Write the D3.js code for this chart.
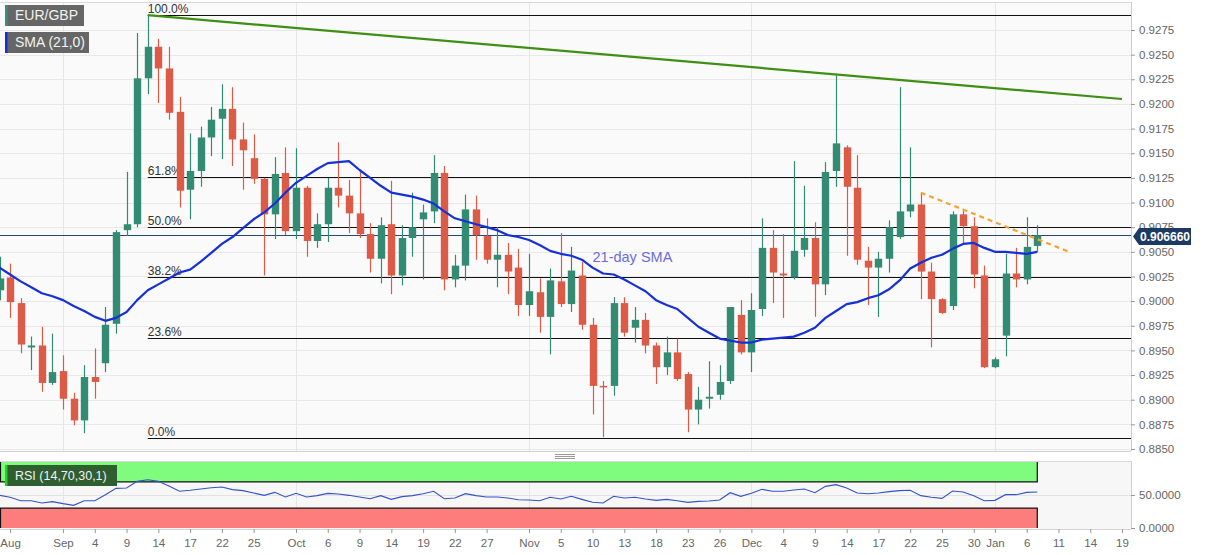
<!DOCTYPE html>
<html>
<head>
<meta charset="utf-8">
<script src="https://cdn.jsdelivr.net/npm/d3@7"></script>
<style>
  body { margin: 0; background: #fff; font-family: "Liberation Sans", Arial, sans-serif; }
  svg text { font-family: "Liberation Sans", Arial, sans-serif; }
</style>
</head>
<body>
<div id="chart"></div>
<script>
// EUR/GBP daily, Aug 24 2020 - Jan 7 2021
const days = [
  "2020-08-24","2020-08-25","2020-08-26","2020-08-27","2020-08-28","2020-08-31",
  "2020-09-01","2020-09-02","2020-09-03","2020-09-04","2020-09-07","2020-09-08","2020-09-09","2020-09-10","2020-09-11",
  "2020-09-14","2020-09-15","2020-09-16","2020-09-17","2020-09-18","2020-09-21","2020-09-22","2020-09-23","2020-09-24",
  "2020-09-25","2020-09-28","2020-09-29","2020-09-30",
  "2020-10-01","2020-10-02","2020-10-05","2020-10-06","2020-10-07","2020-10-08","2020-10-09","2020-10-12","2020-10-13",
  "2020-10-14","2020-10-15","2020-10-16","2020-10-19","2020-10-20","2020-10-21","2020-10-22","2020-10-23","2020-10-26",
  "2020-10-27","2020-10-28","2020-10-29","2020-10-30",
  "2020-11-02","2020-11-03","2020-11-04","2020-11-05","2020-11-06","2020-11-09","2020-11-10","2020-11-11","2020-11-12",
  "2020-11-13","2020-11-16","2020-11-17","2020-11-18","2020-11-19","2020-11-20","2020-11-23","2020-11-24","2020-11-25",
  "2020-11-26","2020-11-27","2020-11-30",
  "2020-12-01","2020-12-02","2020-12-03","2020-12-04","2020-12-07","2020-12-08","2020-12-09","2020-12-10","2020-12-11",
  "2020-12-14","2020-12-15","2020-12-16","2020-12-17","2020-12-18","2020-12-21","2020-12-22","2020-12-23","2020-12-24",
  "2020-12-25","2020-12-28","2020-12-29","2020-12-30","2020-12-31",
  "2021-01-01","2021-01-04","2021-01-05","2021-01-06","2021-01-07"
];
const futureDays = ["2021-01-08","2021-01-11","2021-01-12","2021-01-13","2021-01-14","2021-01-15","2021-01-18","2021-01-19"];

const open = [
  .9011,.9024,.8998,.8953,.8955,.8917,
  .8929,.8901,.8879,.8923,.8937,.8977,.9072,.9078,.9226,
  .9258,.9236,.9192,.9113,.9132,.9166,.9185,.9195,.9164,
  .9145,.9124,.9088,.9130,
  .9071,.9115,.9061,.9078,.9115,.9107,.9089,.9068,.9043,
  .9078,.9026,.9064,.9083,.9091,.9130,.9022,.9036,.9093,
  .9066,.9042,.9047,.9034,
  .8996,.9009,.8984,.9020,.8997,.9026,.8976,.8914,.8914,
  .8998,.8973,.8981,.8955,.8933,.8948,.8926,.8890,.8901,
  .8905,.8919,.8986,
  .8948,.8992,.9054,.9028,.9024,.9052,.9064,.9017,.9132,
  .9156,.9115,.9041,.9034,.9043,.9065,.9091,.9098,.9030,
  .9002,.8995,.9088,.9076,.9026,
  .8933,.8965,.9028,.9022,.9056
];
const high = [
  .9045,.9038,.9003,.8964,.8974,.8967,
  .8945,.8907,.8935,.8952,.8994,.9072,.9131,.9272,.9290,
  .9266,.9258,.9207,.9170,.9177,.9197,.9220,.9217,.9181,
  .9169,.9125,.9146,.9156,
  .9155,.9117,.9089,.9125,.9161,.9123,.9131,.9079,.9085,
  .9122,.9077,.9110,.9098,.9148,.9137,.9047,.9108,.9107,
  .9084,.9075,.9059,.9053,
  .9048,.9023,.9033,.9069,.9055,.9040,.8983,.8919,.9004,
  .9004,.8994,.8988,.8958,.8964,.8962,.8928,.8913,.8939,
  .8935,.8994,.9001,
  .9008,.9084,.9072,.9068,.9142,.9117,.9080,.9141,.9229,
  .9158,.9148,.9055,.9050,.9082,.9217,.9156,.9110,.9039,
  .9003,.9091,.9092,.9085,.9036,
  .8943,.9048,.9054,.9085,.9077
];
const low = [
  .9001,.8983,.8947,.8930,.8908,.8915,
  .8890,.8874,.8866,.8901,.8928,.8967,.9066,.9075,.9210,
  .9201,.9184,.9095,.9083,.9116,.9147,.9144,.9137,.9113,
  .9119,.9026,.9063,.9067,
  .9063,.9045,.9054,.9060,.9095,.9069,.9064,.9029,.9018,
  .9007,.9016,.9045,.9022,.9079,.9011,.9014,.9021,.9042,
  .9038,.9014,.9007,.8985,
  .8985,.8968,.8946,.8994,.8989,.8971,.8885,.8862,.8904,
  .8964,.8958,.8947,.8916,.8925,.8919,.8867,.8875,.8891,
  .8900,.8916,.8946,
  .8928,.8985,.8998,.8983,.9022,.9045,.8984,.9006,.9116,
  .9046,.9037,.8996,.8984,.9029,.9063,.9085,.9002,.8953,
  .8987,.8991,.9059,.9013,.8932,
  .8932,.8944,.9014,.9017,.9050
];
const close = [
  .9023,.8999,.8956,.8955,.8917,.8928,
  .8901,.8879,.8923,.8918,.8976,.9070,.9078,.9226,.9258,
  .9236,.9191,.9112,.9132,.9166,.9184,.9195,.9164,.9153,
  .9124,.9088,.9129,.9071,
  .9115,.9061,.9078,.9115,.9107,.9089,.9068,.9043,.9077,
  .9026,.9064,.9075,.9090,.9130,.9022,.9036,.9093,.9067,
  .9042,.9047,.9030,.8996,
  .9010,.8984,.9021,.8997,.9031,.8976,.8914,.8913,.8998,
  .8968,.8981,.8955,.8933,.8948,.8921,.8890,.8900,.8903,
  .8918,.8994,.8948,
  .8991,.9054,.9029,.9026,.9051,.9064,.9017,.9131,.9160,
  .9116,.9042,.9034,.9043,.9075,.9091,.9098,.9030,.9002,
  .8988,.9088,.9076,.9027,.8933,
  .8941,.9028,.9022,.9055,.90666
];
const sma21 = [
  .9034,.9027,.9020,.9014,.9008,.9005,
  .9001,.8995,.8990,.8984,.8980,.8983,.8989,.9001,.9011,
  .9017,.9023,.9029,.9032,.9040,.9049,.9058,.9065,.9074,
  .9083,.9090,.9099,.9110,
  .9120,.9127,.9134,.9140,.9141,.9142,.9133,.9125,.9117,
  .9110,.9108,.9106,.9103,.9099,.9091,.9084,.9081,.9078,
  .9075,.9072,.9067,.9065,
  .9062,.9057,.9051,.9048,.9046,.9042,.9034,.9028,.9027,
  .9022,.9016,.9010,.9001,.8996,.8992,.8983,.8974,.8968,
  .8962,.8960,.8958,
  .8958,.8961,.8962,.8963,.8964,.8968,.8973,.8983,.8990,
  .8997,.8999,.9003,.9006,.9012,.9021,.9033,.9039,.9044,
  .9047,.9053,.9058,.9059,.9054,
  .9050,.9050,.9049,.9048,.9050
];
const rsi14 = [
  49.5,46.5,41.4,41.4,37.9,39.9,
  36.9,34.3,41.4,41.4,50.5,60.1,60.6,70.7,73.2,
  70.7,63.6,55.6,57.1,59.1,61.1,62.1,58.1,56.6,
  53.0,49.5,54.0,47.0,
  52.5,47.0,49.0,52.5,51.5,49.5,47.0,44.4,49.0,
  43.4,47.5,49.0,52.0,55.6,44.4,45.5,52.0,49.0,
  47.0,47.0,45.5,42.9,
  42.4,41.4,46.5,43.9,48.0,43.4,38.9,37.9,48.0,
  45.5,46.5,43.9,41.9,43.4,41.4,38.9,40.4,40.9,
  42.4,53.5,48.0,
  52.5,58.6,55.6,55.6,57.6,59.1,53.5,63.1,65.7,
  60.6,53.0,52.0,53.0,55.1,56.6,57.1,49.0,46.5,
  44.9,56.1,54.5,49.0,41.4,
  41.9,50.5,50.5,54.0,54.5
];

const priceTicks = [0.8850,0.8875,0.8900,0.8925,0.8950,0.8975,0.9000,0.9025,0.9050,0.9075,
                    0.9100,0.9125,0.9150,0.9175,0.9200,0.9225,0.9250,0.9275];
const rsiTicks = [0, 50];
const tickDays = ["2020-08-25","2020-09-01","2020-09-04","2020-09-09","2020-09-14","2020-09-17","2020-09-22","2020-09-25",
  "2020-10-01","2020-10-06","2020-10-09","2020-10-14","2020-10-19","2020-10-22","2020-10-27",
  "2020-11-02","2020-11-05","2020-11-10","2020-11-13","2020-11-18","2020-11-23","2020-11-26",
  "2020-12-01","2020-12-04","2020-12-09","2020-12-14","2020-12-17","2020-12-22","2020-12-25","2020-12-30",
  "2021-01-01","2021-01-06","2021-01-11","2021-01-14","2021-01-19"];
const tickLabels = ["Aug","Sep","4","9","14","17","22","25","Oct","6","9","14","19","22","27",
  "Nov","5","10","13","18","23","26","Dec","4","9","14","17","22","25","30","Jan","6","11","14","19"];
const monthDays = ["2020-09-01","2020-10-01","2020-11-02","2020-12-01","2021-01-01"];

// fibonacci retracement between Sep 11 high and Nov 11 low
const fibHigh = 0.9290, fibLow = 0.8861, fibStartDay = "2020-09-11";
const fibLevels = [1, 0.618, 0.5, 0.382, 0.236, 0];
const fibLabels = ["100.0%","61.8%","50.0%","38.2%","23.6%","0.0%"];

const trendDays = ["2020-09-11","2021-01-19"], trendPrices = [0.9290, 0.9205];
const resistDays = ["2020-12-23","2021-01-12"], resistPrices = [0.9110, 0.9050];
const lastPrice = 0.90666;

const W = 1207, H = 555;
const plotRight = 1131;
const svg = d3.select("#chart").append("svg").attr("width", W).attr("height", H);

const x = d3.scalePoint().domain(days.concat(futureDays)).range([-0.5, 1122]);
const y = d3.scaleLinear().domain([0.8850, 0.9275]).range([449, 30]);
const yR = d3.scaleLinear().domain([0, 100]).range([528, 462]);

// panels
svg.append("rect").attr("x", 0).attr("y", 2).attr("width", plotRight).attr("height", 449).style("fill", "#fafafa");
svg.append("rect").attr("x", 0).attr("y", 461).attr("width", plotRight).attr("height", 68).style("fill", "#f7f7f7");
svg.append("line").attr("x1", 0).attr("x2", plotRight).attr("y1", 2.5).attr("y2", 2.5).style("stroke", "#d8d8d8");
svg.append("line").attr("x1", 0).attr("x2", plotRight).attr("y1", 451.5).attr("y2", 451.5).style("stroke", "#d0d0d0");
svg.append("line").attr("x1", 0).attr("x2", plotRight).attr("y1", 461.5).attr("y2", 461.5).style("stroke", "#dadada");

// grid
svg.append("g").selectAll("line").data(priceTicks).join("line")
  .attr("x1", 0).attr("x2", plotRight)
  .attr("y1", d => Math.round(y(d)) + 0.5).attr("y2", d => Math.round(y(d)) + 0.5)
  .style("stroke", "#e8e8e8");
svg.append("g").selectAll("line").data(monthDays).join("line")
  .attr("x1", d => Math.round(x(d)) + 0.5).attr("x2", d => Math.round(x(d)) + 0.5)
  .attr("y1", 3).attr("y2", 451).style("stroke", "#e6e6e6");
svg.append("g").selectAll("line").data(monthDays).join("line")
  .attr("x1", d => Math.round(x(d)) + 0.5).attr("x2", d => Math.round(x(d)) + 0.5)
  .attr("y1", 462).attr("y2", 528).style("stroke", "#e6e6e6");
svg.append("line").attr("x1", 0).attr("x2", plotRight)
  .attr("y1", Math.round(yR(50)) + 0.5).attr("y2", Math.round(yR(50)) + 0.5).style("stroke", "#e2e2e2");

// drag handle between panels
[454.5, 456.5, 458.5].forEach(function(v){
  svg.append("line").attr("x1", 555).attr("x2", 575).attr("y1", v).attr("y2", v).style("stroke", "#9a9a9a");
});

const price = svg.append("g");

// fibonacci lines
const fibX = x(fibStartDay);
fibLevels.forEach(function(lv, i){
  let p = fibLow + lv * (fibHigh - fibLow);
  let yy = Math.round(y(p)) + 0.5;
  price.append("line").attr("x1", fibX).attr("x2", plotRight).attr("y1", yy).attr("y2", yy)
    .style("stroke", "#111").style("stroke-width", 1.2);
  price.append("text").attr("x", fibX).attr("y", yy - 3).text(fibLabels[i])
    .style("font-size", "12px").style("fill", "#333");
});

// last price line
price.append("line").attr("x1", 0).attr("x2", plotRight)
  .attr("y1", Math.round(y(lastPrice)) + 0.5).attr("y2", Math.round(y(lastPrice)) + 0.5)
  .style("stroke", "#2a4674").style("stroke-width", 1);

// green trend line
price.append("line")
  .attr("x1", x(trendDays[0])).attr("y1", y(trendPrices[0]))
  .attr("x2", x(trendDays[1])).attr("y2", y(trendPrices[1]))
  .style("stroke", "#3f8f12").style("stroke-width", 2.2);

// candles
const green = "#338b73", red = "#db5b46";
const candles = price.append("g");
days.forEach(function(d, i){
  let col = close[i] >= open[i] ? green : red;
  let cx = Math.round(x(d)) + 0.5;
  candles.append("line").attr("x1", cx).attr("x2", cx)
    .attr("y1", y(high[i])).attr("y2", y(low[i]))
    .style("stroke", col).style("stroke-width", 1.2);
  let top = y(Math.max(open[i], close[i]));
  let h = Math.max(1.5, Math.abs(y(open[i]) - y(close[i])));
  candles.append("rect").attr("x", cx - 3.7).attr("width", 7.4)
    .attr("y", top).attr("height", h).style("fill", col);
});

// 21 day SMA
const smaLine = d3.line().x((d, i) => x(days[i])).y(d => y(d));
price.append("path").datum(sma21).attr("d", smaLine)
  .style("fill", "none").style("stroke", "#1530d8").style("stroke-width", 2.2)
  .style("stroke-linejoin", "round");
price.append("text").attr("x", x("2020-11-10")).attr("y", y(0.9040)).text("21-day SMA")
  .style("font-size", "14.5px").style("fill", "#6c6ce0");

// falling resistance line
price.append("line")
  .attr("x1", x(resistDays[0])).attr("y1", y(resistPrices[0]))
  .attr("x2", x(resistDays[1])).attr("y2", y(resistPrices[1]))
  .style("stroke", "#f4a430").style("stroke-width", 2.2).style("stroke-dasharray", "5,4");

// right price axis
const yAxis = d3.axisRight(y).tickValues(priceTicks).tickFormat(d3.format(".4f")).tickSize(4).tickSizeOuter(0).tickPadding(4);
const ya = svg.append("g").attr("transform", "translate(" + plotRight + ",0)").call(yAxis);
ya.select(".domain").attr("d", "M0.5,2V451").style("stroke", "#cfcfcf");
ya.selectAll(".tick line").style("stroke", "#999");
ya.selectAll(".tick text").style("font-size", "11.5px").style("fill", "#666").style("font-family", "Liberation Sans, Arial, sans-serif");

// last price tag
const tagY = y(lastPrice);
const tag = svg.append("g").attr("transform", "translate(" + (plotRight + 2) + "," + (tagY + 1) + ")");
tag.append("path").attr("d", "M0,0 L6,-8.5 L58,-8.5 L58,8.5 L6,8.5 Z").style("fill", "#1d3a62");
tag.append("text").attr("x", 32).attr("y", 4.5).attr("text-anchor", "middle").text(lastPrice.toFixed(6))
  .style("font-size", "12px").style("font-weight", "bold").style("fill", "#fff");

// RSI panel
const lastX = x(days[days.length - 1]);
const rsiG = svg.append("g");
rsiG.append("rect").attr("x", 0).attr("width", lastX).attr("y", yR(100)).attr("height", yR(70) - yR(100)).style("fill", "#7ffb7e");
rsiG.append("rect").attr("x", 0).attr("width", lastX).attr("y", yR(30)).attr("height", yR(0) - yR(30)).style("fill", "#fd7c7c");
rsiG.append("path")
  .attr("d", "M0.5," + yR(100) + "V" + yR(70) + "H" + lastX + "V" + yR(100) +
             "M0.5," + yR(0) + "V" + yR(30) + "H" + lastX + "V" + yR(0))
  .style("fill", "none").style("stroke", "#111").style("stroke-width", 1.2);
const rsiLine = d3.line().x((d, i) => x(days[i])).y(d => yR(d));
rsiG.append("path").datum(rsi14).attr("d", rsiLine)
  .style("fill", "none").style("stroke", "#3552cc").style("stroke-width", 1.1);

const rAxis = d3.axisRight(yR).tickValues(rsiTicks).tickFormat(d3.format(".4f")).tickSize(4).tickSizeOuter(0).tickPadding(4);
const ra = svg.append("g").attr("transform", "translate(" + plotRight + ",0)").call(rAxis);
ra.select(".domain").attr("d", "M0.5,461V529").style("stroke", "#cfcfcf");
ra.selectAll(".tick line").style("stroke", "#999");
ra.selectAll(".tick text").style("font-size", "11.5px").style("fill", "#666").style("font-family", "Liberation Sans, Arial, sans-serif");

// bottom date axis
const xAxis = d3.axisBottom(x).tickValues(tickDays).tickFormat((d, i) => tickLabels[i]).tickSize(4).tickSizeOuter(0).tickPadding(6);
const xa = svg.append("g").attr("transform", "translate(0,529)").call(xAxis);
xa.select(".domain").attr("d", "M0,0.5H" + plotRight).style("stroke", "#d5d5d5");
xa.selectAll(".tick line").style("stroke", "#999");
xa.selectAll(".tick text").style("font-size", "11.5px").style("fill", "#666").style("font-family", "Liberation Sans, Arial, sans-serif");

// legend boxes
function legendBox(yy, w, label, stripe, fill, fs){
  svg.append("rect").attr("x", 5).attr("y", yy).attr("width", w).attr("height", 21).style("fill", fill);
  svg.append("rect").attr("x", 5).attr("y", yy).attr("width", 2.5).attr("height", 21).style("fill", stripe);
  svg.append("text").attr("x", 15).attr("y", yy + 15).text(label)
    .style("font-size", fs).style("fill", "#f2f2f2");
}
legendBox(5, 79, "EUR/GBP", "#3a8f78", "#666666", "14px");
legendBox(32, 84, "SMA (21,0)", "#1530d8", "#666666", "14px");
legendBox(465, 112, "RSI (14,70,30,1)", "#22d022", "#2f5e30", "12.5px");
</script>
</body>
</html>
